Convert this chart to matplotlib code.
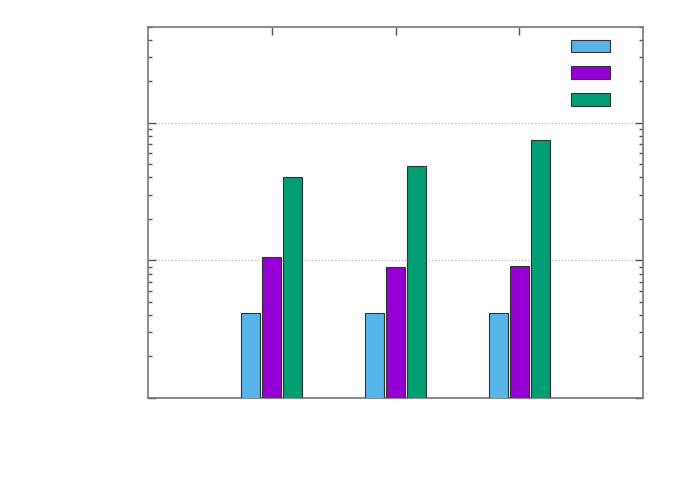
import matplotlib
matplotlib.use("Agg")
import matplotlib.pyplot as plt
from matplotlib.patches import Patch
from matplotlib.ticker import LogLocator, NullFormatter, FixedLocator
import numpy as np

# data
categories = [1, 2, 3]
series_a = [4.14, 4.14, 4.14]
series_b = [10.5, 9.0, 9.15]
series_c = [40.4, 48.1, 75.5]
colors = ["#56b4e9", "#9400d3", "#009e73"]
labels = ["", "", ""]

fig = plt.figure(figsize=(6.92, 4.85), dpi=100)
ax = fig.add_axes([148/692, 1-398.8/485, (643-148)/692, (398.8-27.6)/485])

width = 0.153
offset = 0.168
x = np.array(categories, dtype=float)
for i, (vals, c) in enumerate(zip([series_a, series_b, series_c], colors)):
    ax.bar(x + (i-1)*offset, vals, width=width, bottom=0, color=c,
           edgecolor="#333333", linewidth=0.8, zorder=3)

ax.set_yscale("log")
ax.set_ylim(1, 500)
ax.set_xlim(0, 4)
ax.xaxis.set_major_locator(FixedLocator(categories))
ax.yaxis.set_major_locator(LogLocator(base=10, numticks=10))
ax.yaxis.set_minor_locator(LogLocator(base=10, subs=np.arange(2, 10), numticks=10))
ax.xaxis.set_major_formatter(NullFormatter())
ax.yaxis.set_major_formatter(NullFormatter())
ax.yaxis.set_minor_formatter(NullFormatter())
ax.tick_params(which="both", direction="in", top=True, right=True, color="#555555")
ax.tick_params(which="major", length=6, width=1)
ax.tick_params(which="minor", length=3, width=1)
ax.grid(axis="y", which="major", linestyle=(0, (1, 2)), color="#aaaaaa", linewidth=0.8, zorder=0)
for s in ax.spines.values():
    s.set_color("#777777")
    s.set_linewidth(1.2)

handles = [Patch(facecolor=c, edgecolor="#333333", linewidth=0.8) for c in colors]
ax.legend(handles, labels, loc="upper right", bbox_to_anchor=(0.945, 0.98),
          frameon=False, handlelength=2.8, handleheight=1.0, labelspacing=0.92,
          handletextpad=0.0, borderaxespad=0.0)

fig.savefig("out.png", dpi=100)
